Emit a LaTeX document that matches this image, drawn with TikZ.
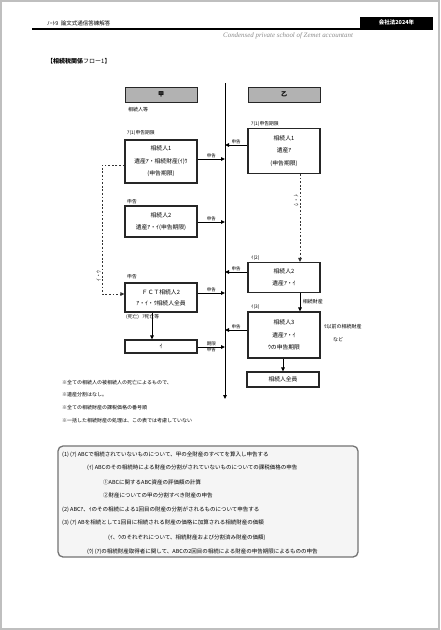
\documentclass[tikz,border=0pt]{standalone}
\usepackage{fontspec}
\setmainfont{Noto Sans CJK JP}
\newfontfamily\latinit{Liberation Serif}
\usetikzlibrary{arrows.meta}
\begin{document}
\begin{tikzpicture}[x=1pt,y=-1pt,
  txt/.style={inner sep=0, font=\fontsize{5}{6}\selectfont},
  box/.style={draw=black!85, line width=1.1pt, fill=white, inner sep=0, minimum width=72pt, align=center, font=\fontsize{5.8}{12.5}\selectfont},
  hdr/.style={draw=black!85, line width=1pt, fill=black!30, minimum width=72pt, minimum height=15pt, inner sep=0, font=\fontsize{6}{7}\selectfont\bfseries},
  arr/.style={line width=1pt, -{Triangle[length=4pt,width=3.5pt]}},
  darr/.style={line width=0.9pt, black!80, dash pattern=on 1.8pt off 1.8pt, -{Triangle[length=4pt,width=3.5pt]}},
  lab/.style={font=\fontsize{4.5}{5}\selectfont, inner sep=0.6pt},
  note/.style={anchor=west, inner sep=0, font=\fontsize{5}{6}\selectfont},
  bnote/.style={anchor=west, inner sep=0, font=\fontsize{5.5}{6}\selectfont},
]
\useasboundingbox (0,0) rectangle (440,630);
\fill[white] (0,0) rectangle (440,630);
\draw[black!25, line width=1.2pt] (1,1) rectangle (439,629);

% header
\node[txt, anchor=west, font=\fontsize{5.5}{6}\selectfont] (ht) at (47,23) {ﾉｰﾄ9\ \ 論文式通信答練解答};
\draw[line width=1.2pt] (32,29) -- (433,29);
\node[fill=black, minimum width=73pt, minimum height=11pt, inner sep=0, text=white, font=\fontsize{5.5}{6}\selectfont\bfseries] (hb) at (396.5,22.5) {会社法2024年};
\node[black!45, inner sep=0, font=\latinit\itshape\fontsize{6.9}{7}\selectfont, anchor=west] (sub) at (223,36) {Condensed private school of Zemet accountant};
\node[note, font=\fontsize{6}{6}\selectfont] (tt) at (47,61) {\textbf{【相続税関係}フロー1】};

% column headers
\node[hdr] (hA) at (161,94.5) {甲};
\node[hdr] (hB) at (284,94.5) {乙};
\node[note] (hAsub) at (128,110) {相続人等};

% time line
\coordinate (top) at (225,83);
\coordinate (bot) at (225,399);
\draw[arr] (top) -- (bot);

% left boxes
\node[box, minimum height=43pt] (L1) at (161,161.5) {相続人1\\遺産ｱ・相続財産(ｲ)ｳ\\(申告期限)};
\node[note, font=\fontsize{4.8}{5}\selectfont] (L1l) at (127,133) {ｱ(1)申告期限};
\node[box, minimum height=31pt] (L2) at (161,221.5) {相続人2\\遺産ｱ・ｲ(申告期限)};
\node[note, font=\fontsize{4.8}{5}\selectfont] (L2l) at (127,202) {申告};
\node[box, minimum height=29pt, font=\fontsize{5.8}{11}\selectfont] (L3) at (161,297.5) {ＦＣＴ相続人2\\ｱ・ｲ・ｳ相続人全員};
\node[note, font=\fontsize{4.8}{5}\selectfont] (L3l) at (127,277) {申告};
\node[note, font=\fontsize{4.8}{5}\selectfont] (L3b) at (126,317) {(死亡)\ \ \ ｱ死亡等};
\node[box, minimum height=13pt] (L4) at (161,346.5) {ｲ};

% right boxes
\node[box, minimum height=45pt] (R1) at (284,151) {相続人1\\遺産ｱ\\(申告期限)};
\node[note, font=\fontsize{4.8}{5}\selectfont] (R1l) at (251,124) {ｱ(1)申告期限};
\node[box, minimum height=30pt] (R2) at (284,277.5) {相続人2\\遺産ｱ・ｲ};
\node[note, font=\fontsize{4.8}{5}\selectfont] (R2l) at (251,258) {ｲ(2)};
\node[box, minimum height=46pt] (R3) at (284,335) {相続人3\\遺産ｱ・ｲ\\ｳの申告期限};
\node[note, font=\fontsize{4.8}{5}\selectfont] (R3l) at (251,307) {ｲ(3)};
\node[box, minimum height=15pt] (R4) at (283,379.5) {相続人全員};
\node[note] (R3n) at (324,327) {ｳ以前の相続財産};
\node[note] (R3m) at (333,340) {など};

% connectors to the time line
\coordinate (m1) at (225,159);
\coordinate (m2) at (225,145);
\coordinate (m3) at (225,222);
\coordinate (m4) at (225,272);
\coordinate (m5) at (225,293);
\coordinate (m6) at (225,330);
\coordinate (m7) at (225,347);
\draw[arr] (m1 -| L1.east) -- node[lab, above] {申告} (m1);
\draw[arr] (m2 -| R1.west) -- node[lab, above] {申告} (m2);
\draw[arr] (m3 -| L2.east) -- node[lab, above] {申告} (m3);
\draw[arr] (m4 -| R2.west) -- node[lab, above] {申告} (m4);
\draw[arr] (m5 -| L3.east) -- node[lab, above] {申告} (m5);
\draw[arr] (m6 -| R3.west) -- node[lab, above] {申告} (m6);
\draw[arr] (m7 -| L4.east) -- node[lab, above] {期限} node[lab, below] {申告} (m7);

% vertical connectors
\draw[darr] (R1.south -| 300,0) -- node[lab, left, pos=0.3, xshift=-0.5pt, font=\fontsize{5.5}{6}\selectfont] {\rotatebox{-90}{ｲ・ｳ}} (R2.north -| 300,0);
\draw[arr] (R2.south -| 300,0) -- (R3.north -| 300,0);
\node[lab, anchor=west, font=\fontsize{5}{6}\selectfont] (R23l) at (302,302) {相続財産};
\draw[arr] (R3.south -| R4.north) -- (R4.north);
\draw[arr] (L3.south -| 152,0) -- (L4.north -| 152,0);
\coordinate (dA) at (102,165);
\coordinate (dB) at (102,294);
\draw[darr] (L1.west |- dA) -- (dA) -- node[lab, left, pos=0.86, font=\fontsize{5.5}{6}\selectfont] {\rotatebox{90}{ｲ・ｳ}} (dB) -- (dB -| L3.west);

% notes
\node[note] (n1) at (62,383) {※全ての相続人の被相続人の死亡によるもので、};
\node[note] (n2) at (62,395) {※遺産分割はなし。};
\node[note] (n3) at (62,408) {※全ての相続財産の課税価格の番号順};
\node[note] (n4) at (62,421) {※一括した相続財産の処理は、この表では考慮していない};

% bottom box
\draw[black!55, line width=1.3pt, fill=black!4, rounded corners=5pt] (58,446) rectangle (358,557);
\node[bnote] (b1) at (62,455) {(1)\ (ｱ)\ ABCで相続されていないものについて、甲の全財産のすべてを算入し申告する};
\node[bnote] (b2) at (87,468) {(ｲ)\ ABCのその相続時による財産の分割がされていないものについての課税価格の申告};
\node[bnote] (b3) at (103,482) {①ABCに関するABC資産の評価額の計算};
\node[bnote] (b4) at (103,495) {②財産についての甲の分割すべき財産の申告};
\node[bnote] (b5) at (62,510) {(2)\ ABCｱ、ｲのその相続による1回目の財産の分割がされるものについて申告する};
\node[bnote] (b6) at (62,523) {(3)\ (ｱ)\ ABを相続として1回目に相続される財産の価格に加算される相続財産の価額};
\node[bnote] (b7) at (108,538) {(ｲ、ｳのそれぞれについて、相続財産および分割済み財産の価額)};
\node[bnote] (b8) at (87,552) {(ｳ)\ (ｱ)の相続財産取得者に関して、ABCの2回目の相続による財産の申告期限によるものの申告};
\end{tikzpicture}
\end{document}
